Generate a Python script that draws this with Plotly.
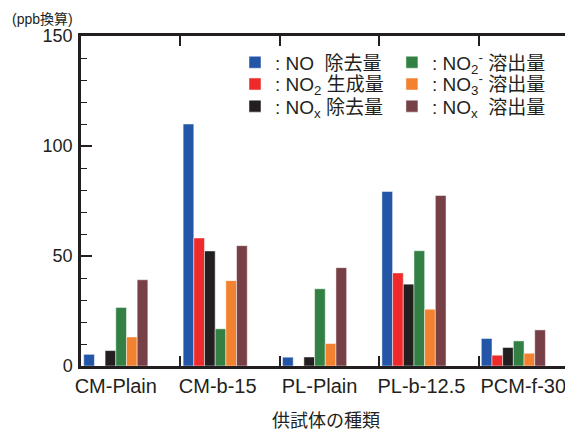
import plotly.graph_objects as go

categories = ["CM-Plain", "CM-b-15", "PL-Plain", "PL-b-12.5", "PCM-f-30"]
no_removed = [5.3, 110.0, 4.0, 79.3, 12.5]
no2_generated = [0.0, 58.2, 0.0, 42.3, 4.9]
nox_removed = [7.0, 52.3, 4.1, 37.2, 8.4]
no2m_eluted = [26.6, 16.9, 35.1, 52.4, 11.4]
no3m_eluted = [13.2, 38.8, 10.2, 25.8, 5.8]
nox_eluted = [39.2, 54.7, 44.7, 77.5, 16.4]
y_ticks = [0, 50, 100, 150]

series = [
    (": NO  除去量", no_removed, "#2356a6"),
    (": NO<sub>2</sub> 生成量", no2_generated, "#ee2a2a"),
    (": NO<sub>x</sub> 除去量", nox_removed, "#231f20"),
    (": NO<sub>2</sub><sup>-</sup> 溶出量", no2m_eluted, "#338044"),
    (": NO<sub>3</sub><sup>-</sup> 溶出量", no3m_eluted, "#f28130"),
    (": NO<sub>x</sub>  溶出量", nox_eluted, "#773f46"),
]

FONT = "Liberation Sans, Arial, Noto Sans CJK JP"
xpos = [i + 0.35 for i in range(len(categories))]
label_pos = [i * 1.025 + 0.35 for i in range(len(categories))]

# legend placement (paper coords): two columns, three rows
leg_x = [0.313, 0.313, 0.313, 0.632, 0.632, 0.632]
leg_y = [0.92, 0.854, 0.787, 0.92, 0.854, 0.787]

fig = go.Figure()
legends = {}
for k, (name, vals, color) in enumerate(series):
    lg = "legend" if k == 0 else f"legend{k + 1}"
    fig.add_trace(go.Bar(
        x=xpos, y=vals, name=name, legend=lg,
        marker=dict(color=color, line=dict(color="rgba(255,255,255,0.6)", width=0.8)),
    ))
    legends[lg] = dict(x=leg_x[k], y=leg_y[k], xanchor="left", yanchor="middle",
                       bgcolor="rgba(0,0,0,0)", font=dict(size=19), itemwidth=30)

# page body has an 8px margin, so the figure is drawn 8px smaller and offset
fig.update_layout(
    width=565, height=424,
    margin=dict(l=73, r=0, t=28, b=66, autoexpand=False),
    paper_bgcolor="white", plot_bgcolor="white",
    barmode="group", bargap=0.355, bargroupgap=0,
    font=dict(family=FONT, size=18, color="#231f20"),
    xaxis=dict(
        range=[0, 4.95], tickmode="array", tickvals=label_pos, ticktext=categories,
        tickfont=dict(size=20), automargin=False,
        ticks="", showline=True, linecolor="#231f20", linewidth=2.5, mirror=True,
        showgrid=False, zeroline=False,
    ),
    xaxis2=dict(
        overlaying="x", matches="x", range=[0, 4.95], tickmode="array", tickvals=[1, 2, 3, 4],
        showticklabels=False, ticks="inside", ticklen=10, tickwidth=1.5, tickcolor="#231f20",
        mirror="ticks", showline=False, showgrid=False, zeroline=False, automargin=False,
    ),
    yaxis=dict(
        range=[0, 150], tickmode="array", tickvals=y_ticks, tickfont=dict(size=18),
        ticks="inside", ticklen=11, tickwidth=1.5, tickcolor="#231f20",
        minor=dict(dtick=10, ticks="inside", ticklen=6, tickwidth=1.2, tickcolor="#231f20", showgrid=False),
        showline=True, linecolor="#231f20", linewidth=2.5, automargin=False,
        showgrid=False, zeroline=False, ticklabelstandoff=2,
    ),
    annotations=[
        dict(text="(ppb換算)", xref="paper", yref="paper", x=-0.145, y=1.052,
             xanchor="left", yanchor="middle", showarrow=False, font=dict(size=14)),
        dict(text="供試体の種類", xref="paper", yref="paper", x=0.498, y=-0.167,
             xanchor="center", yanchor="middle", showarrow=False, font=dict(size=18)),
    ],
    **legends,
)
# invisible trace to activate the boundary-tick axis
fig.add_trace(go.Scatter(x=[0], y=[0], xaxis="x2", mode="markers", marker=dict(opacity=0),
                         showlegend=False, hoverinfo="skip"))

fig.write_html("out.html")
